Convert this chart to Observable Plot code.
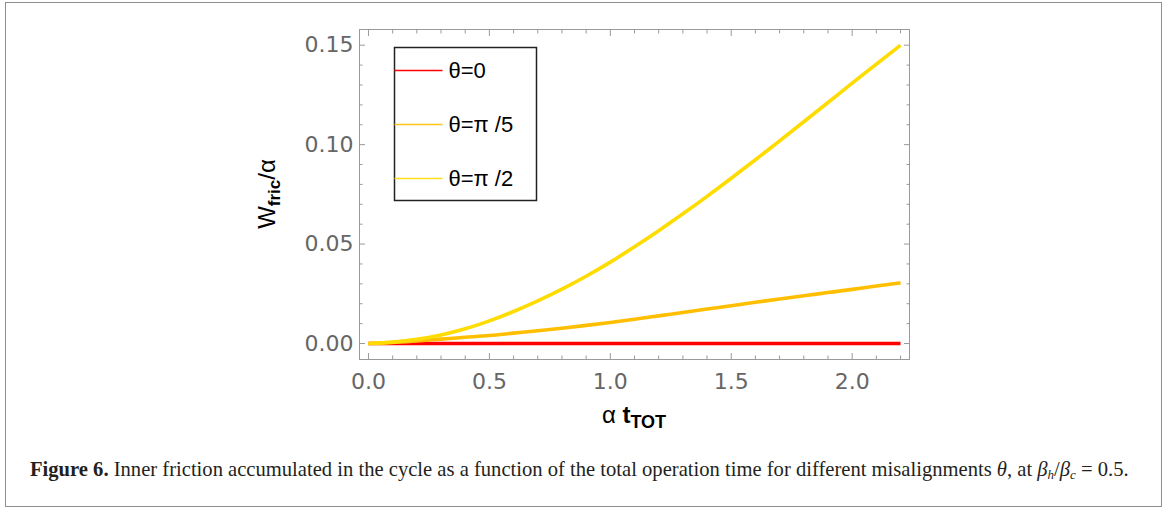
<!DOCTYPE html>
<html>
<head>
<meta charset="utf-8">
<script src="https://cdn.jsdelivr.net/npm/d3@7"></script>
<script src="https://cdn.jsdelivr.net/npm/@observablehq/plot@0.6"></script>
<style>
  body { margin: 0; background: #fff; }
  #wrap { position: relative; width: 1168px; height: 508px; overflow: hidden; background: #fff; }
  #border { position: absolute; left: 5px; top: 2px; width: 1155px; height: 503px; border: 1px solid #8e8e8e; box-sizing: content-box; }
  #chart { position: absolute; left: 0; top: 0; }
  #caption { position: absolute; left: 30px; top: 458px; font-family: "Liberation Serif", "DejaVu Serif", serif; font-size: 20.6px; color: #231f20; white-space: nowrap; }
  #caption sub { font-size: 13px; vertical-align: -3px; }
</style>
</head>
<body>
<div id="wrap">
  <div id="border"></div>
  <div id="chart"></div>
  <div id="caption"></div>
</div>
<script>
// ---- data ----
const tValues = [0, 0.1, 0.2, 0.3, 0.4, 0.5, 0.6, 0.7, 0.8, 0.9, 1.0, 1.1, 1.2, 1.3, 1.4, 1.5, 1.6, 1.7, 1.8, 1.9, 2.0, 2.1, 2.2];
const wTheta0 = [0, 0, 0, 0, 0, 0, 0, 0, 0, 0, 0, 0, 0, 0, 0, 0, 0, 0, 0, 0, 0, 0, 0];
const wThetaPi5 = [0, 0.0005, 0.0013, 0.0022, 0.0031, 0.0040, 0.0052, 0.0064, 0.0077, 0.0091, 0.0106, 0.0122, 0.0139, 0.0156, 0.0173, 0.0190, 0.0207, 0.0224, 0.0240, 0.0256, 0.0272, 0.0289, 0.0305];
const wThetaPi2 = [0, 0.0007, 0.0021, 0.0043, 0.0074, 0.0114, 0.0161, 0.0214, 0.0273, 0.0338, 0.0409, 0.0486, 0.0567, 0.0652, 0.0740, 0.0831, 0.0924, 0.1019, 0.1115, 0.1212, 0.1309, 0.1405, 0.1500];
const seriesNames = ["θ=0", "θ=π /5", "θ=π /2"];
const seriesColors = ["#ff0000", "#ffbf00", "#ffdc00"];
const legendColors = ["#ff0000", "#ffc61a", "#ffe01a"];
const xMajorTicks = [0, 0.5, 1.0, 1.5, 2.0];
const xMinorTicks = [0.1, 0.2, 0.3, 0.4, 0.6, 0.7, 0.8, 0.9, 1.1, 1.2, 1.3, 1.4, 1.6, 1.7, 1.8, 1.9, 2.1, 2.2];
const yMajorTicks = [0, 0.05, 0.10, 0.15];
const yMinorTicks = [0.01, 0.02, 0.03, 0.04, 0.06, 0.07, 0.08, 0.09, 0.11, 0.12, 0.13, 0.14];
const xDomain = [-0.0371, 2.2371];
const yDomain = [-0.00805, 0.1579];

const seriesValues = [wTheta0, wThetaPi5, wThetaPi2];
const rows = [];
seriesNames.forEach((name, s) => {
  tValues.forEach((t, i) => rows.push({t, w: seriesValues[s][i], series: name}));
});

const W = 1168, H = 440;
const mL = 359, mR = 259, mT = 29, mB = 81;
const frameColor = "#9a9a9a";
const labelColor = "#666666";

const tickAxis = (Axis, ticks, anchor, size) =>
  Axis(ticks, {anchor, tickSize: -size, fill: "none", stroke: frameColor, strokeWidth: 1, label: null});

const chart = Plot.plot({
  width: W, height: H,
  marginLeft: mL, marginRight: mR, marginTop: mT, marginBottom: mB,
  x: {domain: xDomain},
  y: {domain: yDomain},
  color: {domain: seriesNames, range: seriesColors},
  style: {background: "transparent", fontFamily: "DejaVu Sans, sans-serif", overflow: "visible"},
  marks: [
    Plot.frame({stroke: frameColor, strokeWidth: 1}),
    Plot.line(rows, {x: "t", y: "w", z: "series", stroke: "series", strokeWidth: 3.6, curve: "monotone-x", strokeLinecap: "butt"}),
    tickAxis(Plot.axisX, xMajorTicks, "bottom", 6),
    tickAxis(Plot.axisX, xMinorTicks, "bottom", 3.5),
    tickAxis(Plot.axisX, xMajorTicks, "top", 6),
    tickAxis(Plot.axisX, xMinorTicks, "top", 3.5),
    tickAxis(Plot.axisY, yMajorTicks, "left", 6),
    tickAxis(Plot.axisY, yMinorTicks, "left", 3.5),
    tickAxis(Plot.axisY, yMajorTicks, "right", 6),
    tickAxis(Plot.axisY, yMinorTicks, "right", 3.5),
    Plot.axisX(xMajorTicks, {anchor: "bottom", tickSize: 0, tickPadding: 14, tickFormat: d3.format(".1f"), fontSize: 22, fill: labelColor, label: null}),
    Plot.axisY(yMajorTicks, {anchor: "left", tickSize: 0, tickPadding: 6, tickFormat: d3.format(".2f"), fontSize: 22, fill: labelColor, label: null})
  ]
});
document.getElementById("chart").appendChild(chart);

const svg = d3.select(chart);
const cx = (mL + (W - mR)) / 2, cy = (mT + (H - mB)) / 2;

// axis titles
const yt = svg.append("text")
  .attr("transform", `translate(275,${cy}) rotate(-90)`)
  .attr("text-anchor", "middle")
  .attr("font-family", "Liberation Sans, Arial, sans-serif")
  .attr("font-size", 24).attr("fill", "#000");
yt.append("tspan").text("W");
yt.append("tspan").attr("font-weight", "bold").attr("font-size", 17).attr("dy", 5).text("fric");
yt.append("tspan").attr("dy", -5).text("/α");

const xt = svg.append("text")
  .attr("x", cx).attr("y", 423)
  .attr("text-anchor", "middle")
  .attr("font-family", "Liberation Sans, Arial, sans-serif")
  .attr("font-size", 24).attr("fill", "#000");
xt.append("tspan").text("α ");
xt.append("tspan").attr("font-weight", "bold").text("t");
xt.append("tspan").attr("font-weight", "bold").attr("font-size", 18).attr("dy", 5).text("TOT");

// legend
const lg = svg.append("g").attr("transform", "translate(394.5,47.5)");
lg.append("rect").attr("width", 142).attr("height", 153).attr("fill", "#fff").attr("stroke", "#222").attr("stroke-width", 1.5);
seriesNames.forEach((name, i) => {
  const y = 23 + i * 54;
  lg.append("line").attr("x1", 0).attr("x2", 48).attr("y1", y).attr("y2", y).attr("stroke", legendColors[i]).attr("stroke-width", 1.5);
  lg.append("text").attr("x", 54).attr("y", y).attr("dy", "0.36em").attr("text-anchor", "start")
    .attr("font-family", "Liberation Sans, Arial, sans-serif").attr("font-size", 22).attr("fill", "#000").text(name);
});

// caption
document.getElementById("caption").innerHTML =
  '<b>Figure 6.</b> Inner friction accumulated in the cycle as a function of the total operation time for different misalignments <i>θ</i>, at <i>β</i><sub><i>h</i></sub>/<i>β</i><sub><i>c</i></sub> = 0.5.';
</script>
</body>
</html>
